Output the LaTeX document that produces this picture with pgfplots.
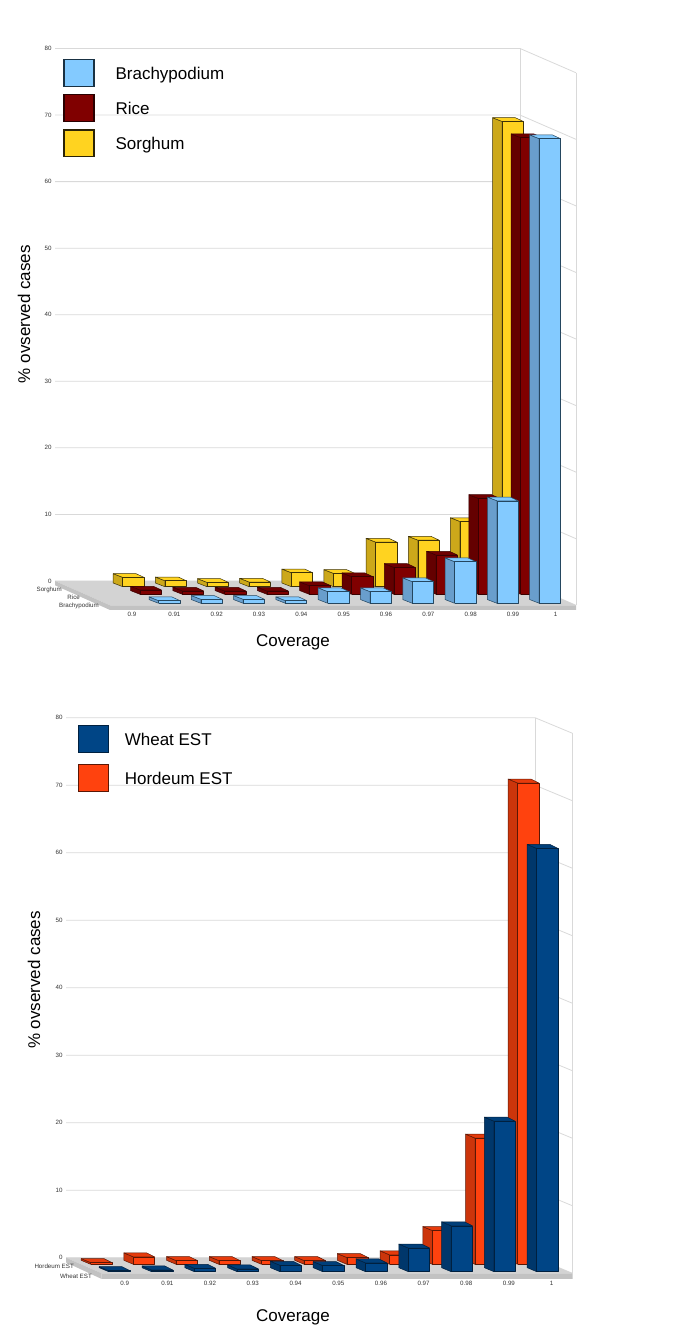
\documentclass[border=0pt]{standalone}
\usepackage{pgfplots}
\usepackage{fontspec}
\setmainfont{Liberation Sans}
\pgfplotsset{compat=1.18}
\definecolor{brF}{HTML}{83CAFF}\definecolor{brS}{HTML}{699ECC}\definecolor{brT}{HTML}{83CAFF}\definecolor{brE}{HTML}{24465F}
\definecolor{riF}{HTML}{800000}\definecolor{riS}{HTML}{640000}\definecolor{riT}{HTML}{700000}\definecolor{riE}{HTML}{3A0000}
\definecolor{soF}{HTML}{FFD320}\definecolor{soS}{HTML}{CCA81A}\definecolor{soT}{HTML}{FFD320}\definecolor{soE}{HTML}{3D3208}
\definecolor{whF}{HTML}{004586}\definecolor{whS}{HTML}{00376B}\definecolor{whT}{HTML}{003F7A}\definecolor{whE}{HTML}{00203F}
\definecolor{hoF}{HTML}{FF420E}\definecolor{hoS}{HTML}{CC350B}\definecolor{hoT}{HTML}{E63B0C}\definecolor{hoE}{HTML}{5A1705}
\definecolor{gridc}{HTML}{D9D9D9}\definecolor{floorc}{HTML}{D3D3D3}\definecolor{bandc}{HTML}{C2C2C2}
% one 3D bar: series, left x of the front face, base, value
\newcommand\tbar[4]{%
  \pgfmathsetmacro\xa{#2}\pgfmathsetmacro\xb{#2+21.3}\pgfmathsetmacro\xc{#2-9.5}\pgfmathsetmacro\xd{#2+13.3}%
  \pgfmathsetmacro\ya{#3}\pgfmathsetmacro\yb{#3+#4}\pgfmathsetmacro\yc{#3+\dep}\pgfmathsetmacro\yd{#3+#4+\dep}%
  \edef\tmp{%
    \noexpand\addplot[forget plot,line width=0.5pt,line join=round,draw=#1E,fill=#1S] coordinates {(\xa,\ya)(\xa,\yb)(\xc,\yd)(\xc,\yc)(\xa,\ya)};
    \noexpand\addplot[forget plot,line width=0.5pt,line join=round,draw=#1E,fill=#1T] coordinates {(\xa,\yb)(\xb,\yb)(\xd,\yd)(\xc,\yd)(\xa,\yb)};
    \noexpand\addplot[forget plot,line width=0.5pt,line join=round,draw=#1E,fill=#1F] coordinates {(\xa,\ya)(\xb,\ya)(\xb,\yb)(\xa,\yb)(\xa,\ya)};
  }\tmp}
\newcommand\series[5]{\def\curx{#2}%
  \pgfplotsforeachungrouped \v in {#5}{\tbar{#1}{\curx}{#4}{\v}\pgfmathsetmacro\curx{\curx+#3}}}
\newcommand\wall[4]{% left x, back x, right x, level at right
  \pgfplotsforeachungrouped \v in {0,10,20,30,40,50,60,70,80}{%
    \pgfmathsetmacro\vr{\v+#4}%
    \edef\tmp{\noexpand\addplot[forget plot,gridc,line width=0.8pt] coordinates {(#1,\v)(#2,\v)(#3,\vr)};}\tmp}}
\newcommand\slabel[3]{\node[anchor=east,inner sep=0pt,font=\fontsize{6.2}{7}\selectfont,text=black!80] at (axis cs:#1,#2) {#3};}
\pgfplotsset{
  threed/.style={
    scale only axis, clip=false, axis line style={draw=none}, major tick length=0pt,
    ymax=80,
    ytick={0,10,20,30,40,50,60,70,80},
    xticklabels={0.9,0.91,0.92,0.93,0.94,0.95,0.96,0.97,0.98,0.99,1},
    tick label style={font=\fontsize{6.2}{7}\selectfont,text=black!80},
    xticklabel style={yshift=1.5pt},
    /pgf/number format/assume math mode=true,
    legend cell align=left,
    legend image code/.code={\draw[##1,line width=1.1pt] (0pt,-12.3pt) rectangle (30pt,14.4pt);},
  }
}
\begin{document}
\begin{tikzpicture}[x=1pt,y=1pt]
\path[use as bounding box] (0,0) rectangle (685,1336);
% ---------- upper chart
\begin{axis}[threed, at={(55pt,726pt)}, anchor=south west,
  width=521pt, height=561.5pt, xmin=55, xmax=576, ymin=-4.36,
  xtick={132,174.4,216.7,259,301.4,343.7,386,428.4,470.7,513,555.7},
  every axis y label/.style={at={(axis description cs:-0.0595,0.527)},rotate=90,anchor=center,font=\fontsize{17}{19}\selectfont},
  every axis x label/.style={at={(axis description cs:0.4568,-0.0579)},anchor=center,font=\fontsize{17}{19}\selectfont},
  xlabel={Coverage}, ylabel={\% ovserved cases},
  legend style={at={(0.0159,0.9812)},anchor=north west,draw=none,fill=none,inner sep=0pt,
    font=\fontsize{17}{19}\selectfont,row sep=7.3pt,
    nodes={inner xsep=0pt,inner ysep=0pt}},
]
\addlegendimage{draw=brE!70!black,fill=brF}\addlegendentry{\hspace{21pt}Brachypodium}
\addlegendimage{draw=riE!70!black,fill=riF}\addlegendentry{\hspace{21pt}Rice}
\addlegendimage{draw=soE!70!black,fill=soF}\addlegendentry{\hspace{21pt}Sorghum}
\wall{55}{520}{576}{-3.65}
\addplot[forget plot,gridc,line width=0.8pt] coordinates {(520,0)(520,80)};
\addplot[forget plot,gridc,line width=0.8pt] coordinates {(576,-3.65)(576,76.35)};
% floor
\addplot[forget plot,draw=none,fill=floorc] coordinates {(55,0)(520,0)(576,-3.65)(110,-3.65)(55,0)};
\addplot[forget plot,draw=none,fill=bandc] coordinates {(110,-3.65)(576,-3.65)(576,-4.36)(110,-4.36)(110,-3.65)};
\addplot[forget plot,draw=none,fill=bandc] coordinates {(55,0)(110,-3.65)(110,-4.36)(55,-0.65)(55,0)};
\def\dep{0.556}
\series{so}{122.7}{42.15}{-0.86}{1.4,0.9,0.65,0.7,2.1,2.0,6.7,7.0,9.8,69.9}
\series{ri}{140}{42.3}{-2.0}{0.65,0.5,0.5,0.5,1.3,2.65,4.05,5.9,14.4,68.6}
\series{br}{158.5}{42.3}{-3.35}{0.4,0.6,0.6,0.4,1.75,1.75,3.25,6.25,15.4,69.8}
\slabel{62}{-1.35}{Sorghum}
\slabel{80}{-2.4}{Rice}
\slabel{99}{-3.76}{Brachypodium}
\end{axis}
% ---------- lower chart
\begin{axis}[threed, at={(66pt,57pt)}, anchor=south west,
  width=506.5pt, height=561.3pt, xmin=66, xmax=572.5, ymin=-3.156,
  xtick={124.7,167.4,210,252.7,295.6,338.3,381,423.6,466.2,508.9,551.7},
  every axis y label/.style={at={(axis description cs:-0.0632,0.5327)},rotate=90,anchor=center,font=\fontsize{17}{19}\selectfont},
  every axis x label/.style={at={(axis description cs:0.4482,-0.0686)},anchor=center,font=\fontsize{17}{19}\selectfont},
  xlabel={Coverage}, ylabel={\% ovserved cases},
  legend style={at={(0.0237,0.9868)},anchor=north west,draw=none,fill=none,inner sep=0pt,
    font=\fontsize{17}{19}\selectfont,row sep=11pt,
    nodes={inner xsep=0pt,inner ysep=0pt}},
]
\addlegendimage{draw=whE,fill=whF}\addlegendentry{\hspace{15.5pt}Wheat EST}
\addlegendimage{draw=hoE,fill=hoF}\addlegendentry{\hspace{15.5pt}Hordeum EST}
\wall{66}{535}{572.5}{-2.31}
\addplot[forget plot,gridc,line width=0.8pt] coordinates {(535,0)(535,80)};
\addplot[forget plot,gridc,line width=0.8pt] coordinates {(572.5,-2.31)(572.5,77.69)};
\addplot[forget plot,draw=none,fill=floorc] coordinates {(66,0)(535,0)(572.5,-2.31)(101.7,-2.31)(66,0)};
\addplot[forget plot,draw=none,fill=bandc] coordinates {(101.7,-2.31)(572.5,-2.31)(572.5,-3.156)(101.7,-3.156)(101.7,-2.31)};
\addplot[forget plot,draw=none,fill=bandc] coordinates {(66,0)(101.7,-2.31)(101.7,-3.156)(66,-0.7)(66,0)};
\def\dep{0.59}
\series{ho}{90.7}{42.7}{-0.98}{0.25,1.1,0.55,0.55,0.55,0.55,1.0,1.4,5.0,18.7,71.3}
\series{wh}{108.7}{42.8}{-2.07}{0.15,0.25,0.5,0.4,0.95,0.9,1.3,3.5,6.8,22.3,62.7}
\slabel{74}{-1.33}{Hordeum EST}
\slabel{92}{-2.7}{Wheat EST}
\end{axis}
\end{tikzpicture}
\end{document}
